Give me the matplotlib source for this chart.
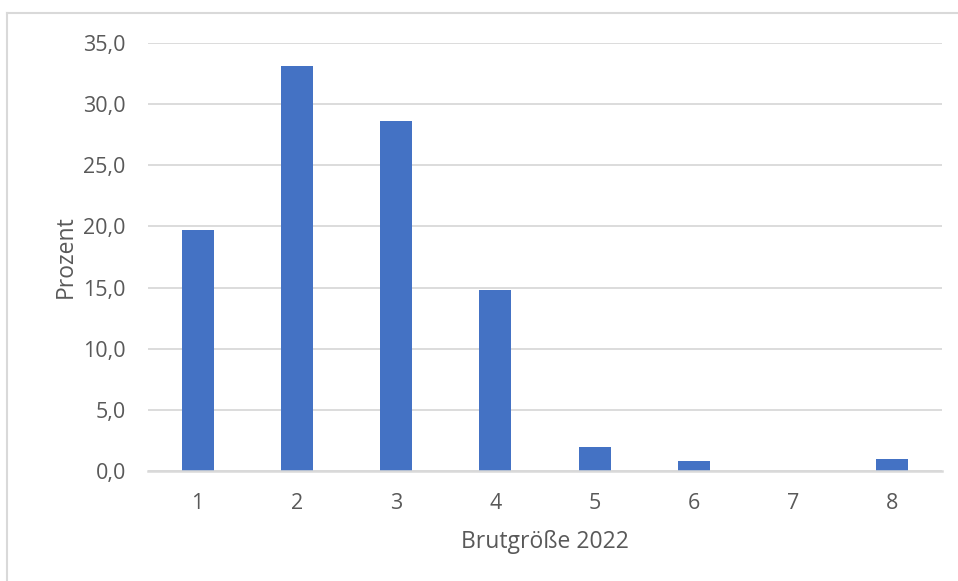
import matplotlib
matplotlib.use("Agg")
import matplotlib.pyplot as plt
from matplotlib.lines import Line2D

categories = ["1", "2", "3", "4", "5", "6", "7", "8"]
values = [19.7, 33.1, 28.6, 14.8, 1.95, 0.8, 0.0, 1.0]
yticks = [0, 5, 10, 15, 20, 25, 30, 35]
ytick_labels = ["0,0", "5,0", "10,0", "15,0", "20,0", "25,0", "30,0", "35,0"]

plt.rcParams['font.family'] = ['Open Sans', 'DejaVu Sans']
text_color = "#595959"

fig = plt.figure(figsize=(9.58, 5.81), dpi=100)
ax = fig.add_axes([148/958, 1-471/581, (942-148)/958, (471-43)/581])

x = list(range(1, len(categories) + 1))
ax.bar(x, values, width=0.32, color="#4472C4", zorder=3)

ax.set_xlim(0.5, 8.5)
ax.set_ylim(0, 35)
ax.set_yticks(yticks)
ax.set_yticklabels(ytick_labels)
ax.set_xticks(x)
ax.set_xticklabels(categories)

ax.grid(axis='y', color="#d9d9d9", linewidth=1.3, zorder=0)
for s in ['top', 'right', 'left']:
    ax.spines[s].set_visible(False)
ax.spines['bottom'].set_color("#d9d9d9")
ax.spines['bottom'].set_linewidth(1.8)
ax.spines['bottom'].set_zorder(4)

ax.tick_params(axis='both', length=0, labelsize=15.5, colors=text_color)
ax.tick_params(axis='y', pad=16)
ax.tick_params(axis='x', pad=16)

ax.set_xlabel("Brutgröße 2022", fontsize=16.5, color=text_color, labelpad=11)
ax.set_ylabel("Prozent", fontsize=16.5, color=text_color, labelpad=4)

# outer frame (left and top edges visible)
fig.add_artist(Line2D([7/958, 7/958], [0, 1-13/581], transform=fig.transFigure, color="#d9d9d9", linewidth=1.5))
fig.add_artist(Line2D([7/958, 1], [1-13/581, 1-13/581], transform=fig.transFigure, color="#d9d9d9", linewidth=1.5))

fig.savefig("out.png", dpi=100)
